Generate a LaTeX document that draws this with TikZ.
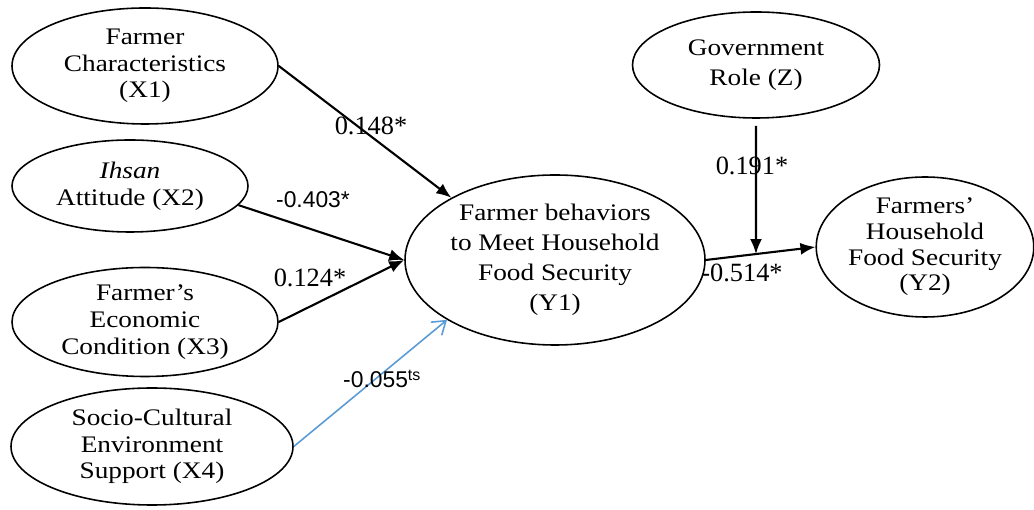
\documentclass[tikz,border=0pt]{standalone}
\usepackage{fontspec}
\setmainfont{Liberation Serif}[FakeStretch=1.15]
\newfontfamily\numserif{Liberation Serif}
\newfontfamily\numsans{Liberation Sans}
\definecolor{pathblue}{RGB}{91,155,213}
\usetikzlibrary{arrows.meta, positioning, calc, shapes}

\begin{document}
\begin{tikzpicture}[
  construct/.style={ellipse, draw, line width=0.9pt, inner sep=0pt, align=center, font=\fontsize{13.5}{15.2}\selectfont},
  link/.style={line width=1.2pt, -{Latex[length=0.3cm, width=0.24cm]}},
  coef/.style={font=\numserif\fontsize{15}{18}\selectfont, anchor=base},
  coefsans/.style={font=\numsans\fontsize{13}{16}\selectfont, anchor=base}
]
  \useasboundingbox (0,0) rectangle (20.68,10.2);

  % exogenous constructs
  \node[construct, minimum width=5.32cm, minimum height=2.32cm] (x1) at (2.9,8.88) {Farmer\\Characteristics\\(X1)};
  \node[construct, minimum width=4.72cm, minimum height=1.84cm] (x2) at (2.6,6.48) {\textit{Ihsan}\\Attitude (X2)};
  \node[construct, minimum width=5.32cm, minimum height=2.18cm] (x3) at (2.9,3.76) {Farmer’s\\Economic\\Condition (X3)};
  \node[construct, minimum width=5.64cm, minimum height=2.34cm] (x4) at (3.04,1.27) {Socio-Cultural\\Environment\\Support (X4)};

  % mediator, moderator and outcome
  \node[construct, minimum width=6.0cm, minimum height=3.4cm, font=\fontsize{13.5}{17}\selectfont] (y1) at (11.1,5.0) {Farmer behaviors\\to Meet Household\\Food Security\\(Y1)};
  \node[construct, minimum width=4.94cm, minimum height=2.12cm, font=\fontsize{13.5}{17}\selectfont] (z) at (15.12,8.9) {Government\\Role (Z)};
  \node[construct, minimum width=4.24cm, minimum height=2.8cm, font=\fontsize{13.5}{14.6}\selectfont] (y2) at (18.5,5.26) {Farmers’\\Household\\Food Security\\(Y2)};

  % paths
  \draw[link] (x1.east) -- (y1.149);
  \draw[link] (x2.350) -- (y1.west);
  \draw[link] (x3.east) -- (y1.west);
  \draw[pathblue, line width=0.9pt, -{Straight Barb[length=0.25cm, width=0.34cm]}] (x4.east) -- (y1.209);
  \draw[link] (y1.east) -- (y2.west);
  \coordinate (mod) at (intersection of z.north--z.south and y1.east--y2.west);
  \draw[link, shorten <=0.14cm] (z.south) -- (mod);

  % coefficients
  \node[coef] (b1) at (7.42,7.5) {0.148*};
  \node[coefsans] (b2) at (6.26,6.04) {-0.403*};
  \node[coef] (b3) at (6.2,4.46) {0.124*};
  \node[coefsans, anchor=base west] (b4) at (6.74,2.44) {-0.055\textsuperscript{ts}};
  \node[coef] (b5) at (15.04,6.7) {0.191*};
  \node[coef] (b6) at (14.84,4.56) {-0.514*};
\end{tikzpicture}
\end{document}
